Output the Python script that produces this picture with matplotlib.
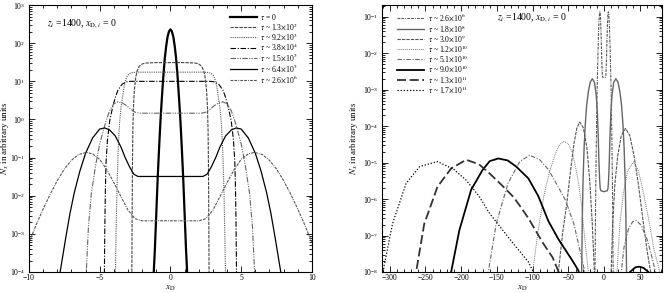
import numpy as np
import matplotlib
matplotlib.use("Agg")
import matplotlib.pyplot as plt
from matplotlib.ticker import FixedLocator, MultipleLocator, NullFormatter

plt.rcParams['font.family'] = ['Liberation Serif', 'DejaVu Serif']
plt.rcParams['mathtext.fontset'] = 'stix'
plt.rcParams['font.size'] = 5.5

# ---- left panel: symmetric profiles, half (x >= 0)
t0_x = [0, 0.1, 0.2, 0.3, 0.4, 0.5, 0.6, 0.7, 0.8, 0.9, 1.0, 1.1, 1.18, 1.25]
t0_y = [230, 205, 150, 85, 40, 14, 4, 1.0, 0.19, 0.03, 3.5e-3, 4e-4, 1e-4, 2e-5]

t1_x = [0, 1.0, 1.5, 1.8, 2.0, 2.2, 2.35, 2.45, 2.55, 2.62, 2.66, 2.69, 2.71, 2.73, 2.75]
t1_y = [31, 31, 30.5, 30, 28.5, 25, 19, 13, 6, 2, 0.5, 0.05, 3e-3, 1e-4, 1e-5]

t2_x = [0, 2.4, 2.7, 2.9, 3.05, 3.2, 3.3, 3.4, 3.5, 3.6, 3.7, 3.78, 3.84, 3.89, 3.93]
t2_y = [17.4, 17.4, 17, 16, 14, 10, 6.5, 3.5, 2, 0.8, 0.15, 0.015, 1.2e-3, 1e-4, 1e-5]

t3_x = [0, 2.8, 3.1, 3.4, 3.7, 3.9, 4.1, 4.3, 4.45, 4.55, 4.6, 4.64, 4.67, 4.7]
t3_y = [10, 10, 9.7, 8.5, 6, 3.8, 2, 0.9, 0.3, 0.08, 0.015, 1.5e-3, 1e-4, 1e-5]

t4_x = [0, 2.2, 2.5, 2.8, 3.1, 3.4, 3.71, 4.0, 4.3, 4.6, 5.0, 5.3, 5.6, 5.8, 5.95, 6.0]
t4_y = [1.46, 1.46, 1.55, 1.85, 2.3, 2.7, 2.9, 2.6, 1.7, 0.8, 0.23, 0.06, 0.011, 1.5e-3, 1e-4, 3e-5]

t5_x = [0, 2.3, 2.6, 2.9, 3.2, 3.5, 3.9, 4.3, 4.65, 5.0, 5.5, 6.0, 6.4, 6.8, 7.1, 7.4, 7.8, 7.9]
t5_y = [0.032, 0.032, 0.037, 0.058, 0.1, 0.19, 0.37, 0.53, 0.6, 0.56, 0.33, 0.13, 0.045,
        0.012, 3.5e-3, 8e-4, 1e-4, 5e-5]

t6_x = [0, 2.0, 2.5, 3.0, 3.5, 4.0, 4.5, 5.0, 5.5, 5.95, 6.5, 7.0, 7.5, 8.0, 8.5, 9.0,
        9.5, 10.0, 11.0, 12.0, 12.7, 13.2]
t6_y = [2.2e-3, 2.2e-3, 2.5e-3, 4.2e-3, 9.5e-3, 0.022, 0.048, 0.09, 0.125, 0.137, 0.12,
        0.085, 0.05, 0.025, 0.011, 4.5e-3, 1.7e-3, 6e-4, 3e-5, 5e-7, 1e-8, 1e-9]

left_labels = [r'$\tau$ = 0', r'$\tau$ ~ 1.3$\times$10$^{2}$', r'$\tau$ ~ 9.2$\times$10$^{3}$',
               r'$\tau$ ~ 3.8$\times$10$^{4}$', r'$\tau$ ~ 1.5$\times$10$^{5}$',
               r'$\tau$ ~ 6.4$\times$10$^{5}$', r'$\tau$ ~ 2.6$\times$10$^{6}$']
left_decades = [-4, -3, -2, -1, 0, 1, 2, 3]

# ---- right panel: later times (1.8e8 profile is symmetric, half given)
r1_x = [0, 4.5, 5.5, 6.3, 7.2, 8.2, 9.5, 11, 13.5, 16.5, 19.5, 22, 24.4, 26.5, 28, 29.5, 30.5, 31.4, 32]
r1_y = [1.6e-6, 1.7e-6, 2e-6, 3.5e-6, 1e-5, 5e-5, 2.5e-4, 7e-4, 1.6e-3, 2e-3, 1.6e-3, 9e-4,
        3.8e-4, 1e-4, 2.5e-5, 3e-6, 3e-7, 1e-8, 1e-9]

r2_x = [-68, -64, -58, -52, -47, -42, -38, -34, -29, -24, -20, -16.5, -13.6, -12,
        8, 9.8, 12, 15, 19, 24, 30, 36, 42, 48, 54, 60, 65, 68]
r2_y = [1e-9, 1e-8, 1.2e-7, 8e-7, 6e-6, 3.5e-5, 9e-5, 1.3e-4, 9e-5, 2.5e-5, 3e-6, 2e-7, 1e-8, 1e-9,
        1e-9, 1e-8, 2e-7, 2.5e-6, 1.5e-5, 5.5e-5, 8.7e-5, 5.5e-5, 1.5e-5, 2.5e-6, 3e-7, 4e-8, 1e-8, 1e-9]

r3_x = [-104, -100, -92, -84, -76, -68, -62, -56, -50, -44, -38, -32, -27, -22, -20,
        16, 18, 22, 27, 33, 41, 48, 55, 62, 70, 78, 83]
r3_y = [1e-9, 1e-8, 1.5e-7, 1.3e-6, 6e-6, 1.8e-5, 3.2e-5, 3.8e-5, 3.3e-5, 1.8e-5, 5e-6, 8e-7,
        8e-8, 1e-8, 1e-9,
        1e-9, 1e-8, 2e-7, 1.5e-6, 6e-6, 1.05e-5, 6e-6, 1.5e-6, 3e-7, 4e-8, 1e-8, 3e-9]

r4_x = [-166, -162, -151, -134.5, -118, -104, -90, -77.6, -66, -54, -42, -34, -27, -24,
        20, 24, 28, 34, 40, 45, 52, 60, 66, 72, 75]
r4_y = [1e-9, 1e-8, 2.1e-7, 2.7e-6, 1.07e-5, 1.6e-5, 1.2e-5, 6.3e-6, 2.5e-6, 9.3e-7, 2e-7,
        4e-8, 1e-8, 1e-9,
        1e-9, 1e-8, 5e-8, 1.5e-7, 2.4e-7, 2.6e-7, 1.9e-7, 8e-8, 3e-8, 1e-8, 3e-9]

r5_x = [-218, -214, -202.5, -186, -170, -160, -148, -135, -123, -106, -92, -78, -64, -54,
        -44, -36, -30, 28, 36, 44, 49, 55, 62, 70]
r5_y = [1e-9, 1e-8, 1.4e-7, 1.8e-6, 6.3e-6, 1.1e-5, 1.3e-5, 1.15e-5, 7.8e-6, 3.7e-6, 1.2e-6,
        2.5e-7, 8e-8, 4e-8, 2e-8, 1.1e-8, 4e-9, 3e-9, 1e-8, 1.35e-8, 1.4e-8, 1.3e-8, 1e-8, 3e-9]

r6_x = [-268, -263, -251.6, -233, -214, -193, -175, -160, -143, -127, -117, -106, -85, -72, -63.6, -58]
r6_y = [1e-9, 1e-8, 2.1e-7, 2.2e-6, 6.9e-6, 1.2e-5, 9e-6, 5e-6, 2.4e-6, 1.15e-6, 6.2e-7,
        3e-7, 6e-8, 2.5e-8, 1e-8, 3e-9]

r7_x = [-314, -308, -296, -277, -258, -233, -210, -193, -175, -160, -143, -127, -106, -99, -94]
r7_y = [1e-9, 1.4e-8, 2.1e-7, 2.7e-6, 7.8e-6, 1.07e-5, 6.5e-6, 3.3e-6, 1.2e-6, 4e-7, 1.5e-7,
        6e-8, 1.9e-8, 1e-8, 3e-9]

right_labels = [r'$\tau$ ~ 2.6$\times$10$^{6}$', r'$\tau$ ~ 1.8$\times$10$^{8}$',
                r'$\tau$ ~ 3.0$\times$10$^{9}$', r'$\tau$ ~ 1.2$\times$10$^{10}$',
                r'$\tau$ ~ 5.1$\times$10$^{10}$', r'$\tau$ ~ 9.0$\times$10$^{10}$',
                r'$\tau$ ~ 1.3$\times$10$^{11}$', r'$\tau$ ~ 1.7$\times$10$^{11}$']
right_decades = [-8, -7, -6, -5, -4, -3, -2, -1]

annot = r'$z_i$ =1400, $x_{{\rm D},i}$ = 0'


def mirror(xh, yh):
    xh = np.asarray(xh, float)
    yh = np.asarray(yh, float)
    return np.concatenate([-xh[:0:-1], xh]), np.concatenate([yh[:0:-1], yh])


def style_axes(ax, xmaj, xmin, decades, ylab_x):
    ax.set_yscale('log')
    lo, hi = ax.get_ylim()
    major = [10.0 ** d for d in decades]
    minor = [m * 10.0 ** d for d in decades + [decades[-1] + 1] for m in range(2, 10)]
    minor = [v for v in minor if lo <= v <= hi]
    ax.xaxis.set_major_locator(MultipleLocator(xmaj))
    ax.xaxis.set_minor_locator(MultipleLocator(xmin))
    ax.yaxis.set_major_locator(FixedLocator(major))
    ax.yaxis.set_minor_locator(FixedLocator(minor))
    ax.yaxis.set_minor_formatter(NullFormatter())
    ax.tick_params(which='both', direction='in', top=True, right=True, width=0.6,
                   labelsize=5.5)
    ax.tick_params(axis='x', pad=1.5)
    ax.tick_params(axis='y', pad=2.5)
    ax.tick_params(which='major', length=4)
    ax.tick_params(which='minor', length=2)
    for s in ax.spines.values():
        s.set_linewidth(0.8)
    ax.set_xlabel(r'$x_{\rm D}$', fontsize=6.5)
    ax.set_ylabel(r'$N_x$ in arbitrary units', fontsize=6.5)
    ax.xaxis.set_label_coords(0.5, -0.043)
    ax.yaxis.set_label_coords(ylab_x, 0.5)


fig = plt.figure(figsize=(6.64, 2.93), dpi=100)
axL = fig.add_axes([0.0437, 0.0717, 0.426, 0.911])
axR = fig.add_axes([0.575, 0.0717, 0.422, 0.911])

# left panel
styles_left = [
    dict(color='black', lw=1.6, ls='-'),
    dict(color='#444444', lw=0.8, ls=(0, (3, 1))),
    dict(color='#555555', lw=0.8, ls=(0, (1, 1))),
    dict(color='black', lw=0.8, ls=(0, (5, 1.5, 1, 1.5))),
    dict(color='#666666', lw=0.8, ls=(0, (5, 1.2, 1, 1.2, 1, 1.2))),
    dict(color='black', lw=0.9, ls='-'),
    dict(color='#555555', lw=0.8, ls=(0, (2.5, 1, 2.5, 1, 0.8, 1))),
]
left_data = [(t0_x, t0_y), (t1_x, t1_y), (t2_x, t2_y), (t3_x, t3_y),
             (t4_x, t4_y), (t5_x, t5_y), (t6_x, t6_y)]
for (xh, yh), st, lab in zip(left_data, styles_left, left_labels):
    x, y = mirror(xh, yh)
    axL.plot(x, y, label=lab, **st)

axL.set_xlim(-10, 10)
axL.set_ylim(1e-4, 1e3)
style_axes(axL, 5, 1, left_decades, -0.063)
axL.set_ylim(1e-4, 1e3)
axL.legend(loc='upper left', bbox_to_anchor=(0.69, 0.995), frameon=False, fontsize=5.5,
           handlelength=3.6, handletextpad=0.45, labelspacing=-0.08, borderaxespad=0.3)
axL.text(0.063, 0.93, annot, transform=axL.transAxes, fontsize=7, va='center')

# right panel
styles_right = [
    styles_left[6],
    dict(color='#666666', lw=1.0, ls='-'),
    dict(color='#555555', lw=0.8, ls=(0, (3, 1))),
    dict(color='#777777', lw=0.7, ls=(0, (1, 1))),
    dict(color='#666666', lw=0.8, ls=(0, (4, 1.5, 1, 1.5))),
    dict(color='black', lw=1.3, ls='-'),
    dict(color='#333333', lw=1.3, ls=(0, (5, 2))),
    dict(color='black', lw=0.9, ls=(0, (1, 1.5))),
]
x6, y6 = mirror(t6_x, t6_y)
x1, y1 = mirror(r1_x, r1_y)
right_data = [(x6, y6), (x1, y1), (r2_x, r2_y), (r3_x, r3_y), (r4_x, r4_y),
              (r5_x, r5_y), (r6_x, r6_y), (r7_x, r7_y)]
for (x, y), st, lab in zip(right_data, styles_right, right_labels):
    axR.plot(x, y, label=lab, **st)

axR.set_xlim(-311, 81)
axR.set_ylim(1e-8, 0.21)
style_axes(axR, 50, 10, right_decades, -0.077)
axR.set_ylim(1e-8, 0.21)
axR.legend(loc='upper left', bbox_to_anchor=(0.035, 0.995), frameon=False, fontsize=5.5,
           handlelength=3.6, handletextpad=0.45, labelspacing=-0.08, borderaxespad=0.3)
axR.text(0.41, 0.955, annot, transform=axR.transAxes, fontsize=7, va='center')

fig.savefig('out.png', dpi=100)
